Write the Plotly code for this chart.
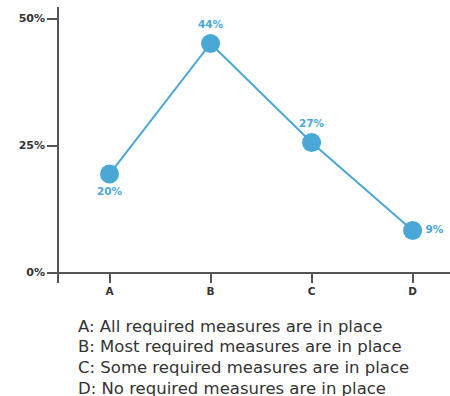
import plotly.graph_objects as go

categories = ["A", "B", "C", "D"]
positions = [0, 1, 2, 3]
values = [19.4, 45.1, 25.6, 8.3]
value_labels = ["20%", "44%", "27%", "9%"]
label_positions = ["bottom center", "top center", "top center", "middle right"]
y_ticks = [0, 25, 50]
y_tick_labels = ["0%", "25%", "50%"]
legend_lines = [
    "A: All required measures are in place",
    "B: Most required measures are in place",
    "C: Some required measures are in place",
    "D: No required measures are in place",
]

BLUE = "#4aa8d7"
AXIS = "#555555"

fig = go.Figure()
fig.add_trace(go.Scatter(
    x=positions, y=values,
    mode="lines+markers+text",
    line=dict(color=BLUE, width=2),
    marker=dict(color=BLUE, size=19),
    text=value_labels,
    textposition=label_positions,
    textfont=dict(family="DejaVu Sans", size=10.5, color=BLUE, weight="bold"),
    cliponaxis=False,
    hoverinfo="skip",
))

W, H = 450, 396
ml, mr, mt, mb = 59, 0, 7, 113
plot_h = H - mt - mb
ymin, ymax = -2.05, 52.28
zero_pos = (0 - ymin) / (ymax - ymin)

fig.update_layout(
    width=W, height=H,
    margin=dict(l=ml, r=mr, t=mt, b=mb, pad=0),
    paper_bgcolor="white", plot_bgcolor="white",
    showlegend=False,
    xaxis=dict(
        range=[-0.5, 3.37],
        tickmode="array", tickvals=positions, ticktext=categories,
        showline=False, showgrid=False, zeroline=False,
        ticks="outside", ticklen=9, tickwidth=1.5, tickcolor=AXIS,
        tickfont=dict(family="DejaVu Sans", size=10.5, color="#333333", weight="bold"),
        anchor="free", position=zero_pos,
        fixedrange=True,
    ),
    yaxis=dict(
        range=[ymin, ymax],
        tickmode="array", tickvals=y_ticks, ticktext=y_tick_labels,
        showline=True, linecolor=AXIS, linewidth=1.5,
        showgrid=False, zeroline=True, zerolinecolor=AXIS, zerolinewidth=1.5,
        ticks="outside", ticklen=10, tickwidth=1.5, tickcolor=AXIS,
        tickfont=dict(family="DejaVu Sans", size=11, color="#333333", weight="bold"),
        fixedrange=True,
    ),
)

plot_w = W - ml - mr
for i, line in enumerate(legend_lines):
    fig.add_annotation(
        xref="paper", yref="paper",
        x=(76 - ml) / plot_w,
        y=-(326 + i * 20.7 - (H - mb)) / plot_h,
        xanchor="left", yanchor="middle",
        text=line, showarrow=False,
        font=dict(family="DejaVu Sans", size=16.5, color="#333333"),
    )

fig.write_html("out.html")
